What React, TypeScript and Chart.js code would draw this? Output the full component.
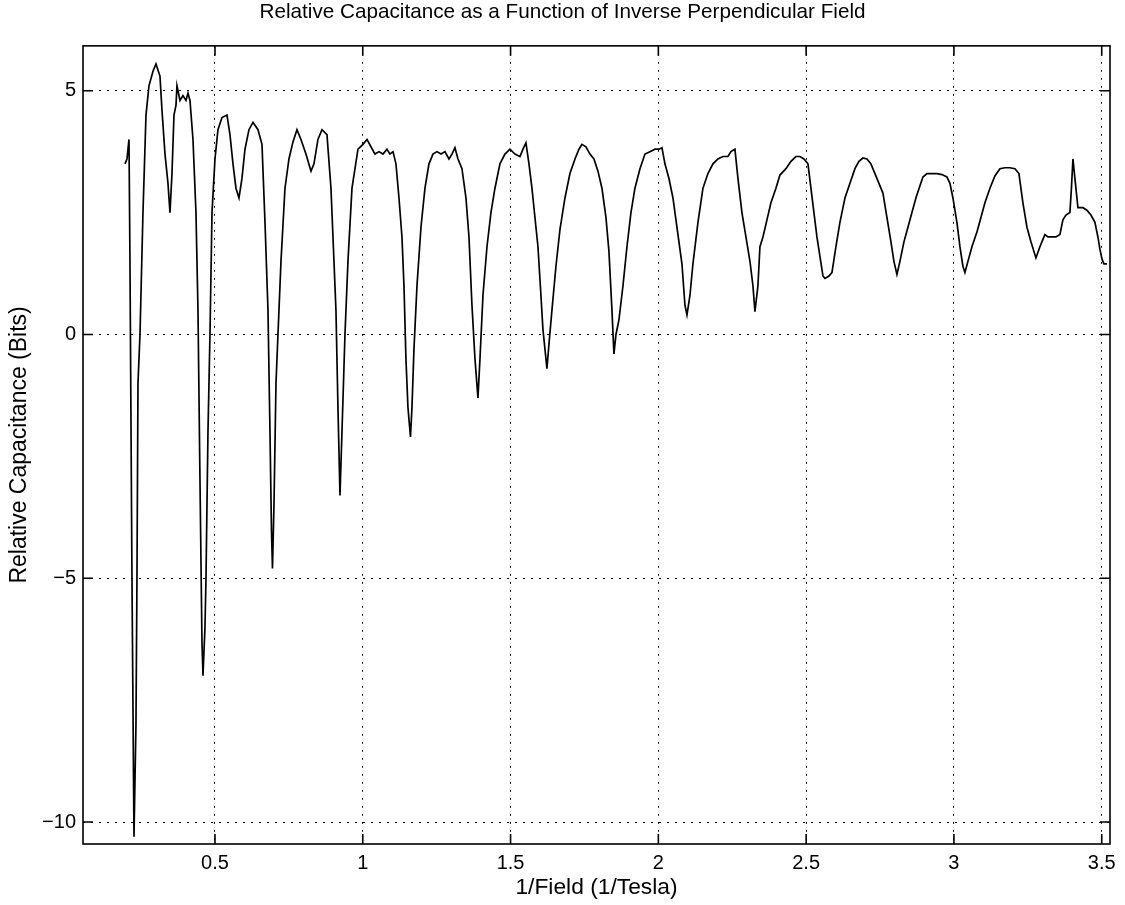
import React, { useEffect, useRef } from "react";
import { Chart, registerables } from "chart.js";

Chart.register(...registerables);

// 1/Field (1/Tesla)
const inverseField = [
  0.1955, 0.2023, 0.2091, 0.2124, 0.2192, 0.226, 0.2327, 0.2361, 0.2395, 0.2463,
  0.2564, 0.2666, 0.2767, 0.2903, 0.3004, 0.3139, 0.3207, 0.3309, 0.341, 0.3478,
  0.3545, 0.3613, 0.3681, 0.3714, 0.3816, 0.3917, 0.4019, 0.4087, 0.4154, 0.4256,
  0.4357, 0.4425, 0.4493, 0.456, 0.4594, 0.4662, 0.4696, 0.4763, 0.4831, 0.4899,
  0.5, 0.5101, 0.5237, 0.5406, 0.5507, 0.5609, 0.571, 0.5812, 0.5913, 0.6015,
  0.615, 0.6286, 0.6455, 0.659, 0.6692, 0.6793, 0.6861, 0.6911, 0.6945, 0.6996,
  0.7064, 0.7131, 0.7233, 0.7368, 0.7503, 0.7639, 0.7774, 0.7909, 0.8078, 0.8248,
  0.8349, 0.8484, 0.862, 0.8789, 0.8924, 0.9026, 0.9093, 0.9161, 0.9229, 0.9296,
  0.9398, 0.9499, 0.9635, 0.9838, 1.0007, 1.0142, 1.0277, 1.0413, 1.0548, 1.0683,
  1.0819, 1.092, 1.1022, 1.1123, 1.1225, 1.1326, 1.1394, 1.1461, 1.1529, 1.1614,
  1.1664, 1.1732, 1.1834, 1.1969, 1.2104, 1.224, 1.2375, 1.251, 1.2646, 1.2781,
  1.2916, 1.3018, 1.3119, 1.3221, 1.3356, 1.3491, 1.3593, 1.3694, 1.3796, 1.3897,
  1.3965, 1.4066, 1.4202, 1.4337, 1.4472, 1.4641, 1.4811, 1.498, 1.5149, 1.5318,
  1.542, 1.5521, 1.5623, 1.5724, 1.5825, 1.5927, 1.6028, 1.6096, 1.6164, 1.6231,
  1.6299, 1.64, 1.6536, 1.6671, 1.684, 1.7009, 1.7179, 1.7314, 1.7415, 1.7551,
  1.7686, 1.7821, 1.7957, 1.8092, 1.8227, 1.8329, 1.843, 1.8498, 1.8566, 1.8667,
  1.8803, 1.8938, 1.9073, 1.9208, 1.9378, 1.9547, 1.9716, 1.9885, 2.002, 2.0122,
  2.0223, 2.0359, 2.0494, 2.0629, 2.0798, 2.09, 2.0968, 2.1069, 2.117, 2.134,
  2.1509, 2.1678, 2.1847, 2.2016, 2.2185, 2.2355, 2.2456, 2.2591, 2.2693, 2.2828,
  2.2963, 2.3099, 2.32, 2.3268, 2.3369, 2.3437, 2.3539, 2.3674, 2.3809, 2.3978,
  2.4113, 2.4317, 2.4486, 2.4655, 2.479, 2.4926, 2.5061, 2.5162, 2.5264, 2.5365,
  2.5467, 2.5568, 2.5636, 2.5771, 2.5873, 2.6008, 2.6143, 2.6313, 2.6482, 2.6651,
  2.6786, 2.6922, 2.7057, 2.7192, 2.7328, 2.7463, 2.7598, 2.7733, 2.7869, 2.797,
  2.8072, 2.8173, 2.8309, 2.8444, 2.8579, 2.8714, 2.885, 2.8951, 2.9087, 2.9256,
  2.9425, 2.9594, 2.9763, 2.9865, 2.9966, 3.0101, 3.0203, 3.0304, 3.0372, 3.0474,
  3.0609, 3.0778, 3.0913, 3.1049, 3.1218, 3.1387, 3.1556, 3.1725, 3.1894, 3.2064,
  3.2199, 3.2334, 3.247, 3.2605, 3.2774, 3.2909, 3.3011, 3.3078, 3.318, 3.3315,
  3.3451, 3.3586, 3.3687, 3.3789, 3.3924, 3.3975, 3.4026, 3.4093, 3.4195, 3.4364,
  3.4499, 3.4635, 3.477, 3.4871, 3.4939, 3.5007, 3.5074, 3.5176,
];

// Relative Capacitance (Bits)
const capacitance = [
  3.5, 3.6, 4.0, 1.5, -5.0, -10.3, -8.0, -5.0, -1.0, 0.0,
  2.5, 4.5, 5.1, 5.4, 5.55, 5.3, 4.6, 3.7, 3.1, 2.5,
  3.3, 4.5, 4.7, 5.1, 4.8, 4.9, 4.8, 4.95, 4.8, 4.0,
  2.5, 0.5, -3.0, -6.3, -7.0, -6.0, -5.0, -2.0, 0.0, 2.5,
  3.6, 4.2, 4.45, 4.5, 4.1, 3.5, 3.0, 2.8, 3.2, 3.8,
  4.2, 4.35, 4.2, 3.9, 2.3, 0.5, -2.0, -4.0, -4.8, -3.5,
  -1.0, 0.0, 1.5, 3.0, 3.6, 3.95, 4.2, 4.0, 3.7, 3.35,
  3.5, 4.0, 4.2, 4.1, 3.0, 1.5, 0.5, -1.5, -3.3, -2.0,
  0.0, 1.5, 3.0, 3.8, 3.9, 4.0, 3.85, 3.7, 3.75, 3.7,
  3.8, 3.7, 3.75, 3.5, 2.8, 2.0, 1.0, -0.5, -1.5, -2.1,
  -1.5, -0.3, 1.0, 2.2, 3.0, 3.5, 3.7, 3.75, 3.7, 3.75,
  3.6, 3.7, 3.83, 3.6, 3.4, 2.8, 2.0, 0.6, -0.5, -1.3,
  -0.5, 0.8, 1.8, 2.5, 3.0, 3.5, 3.7, 3.8, 3.7, 3.65,
  3.8, 3.93, 3.5, 3.0, 2.4, 1.8, 0.8, 0.1, -0.3, -0.7,
  -0.2, 0.5, 1.4, 2.15, 2.8, 3.3, 3.6, 3.8, 3.9, 3.85,
  3.7, 3.6, 3.35, 3.0, 2.4, 1.7, 0.5, -0.4, 0.0, 0.3,
  1.0, 1.8, 2.5, 3.0, 3.4, 3.7, 3.75, 3.8, 3.8, 3.83,
  3.5, 3.2, 2.8, 2.2, 1.45, 0.6, 0.4, 0.8, 1.45, 2.3,
  3.0, 3.3, 3.5, 3.6, 3.65, 3.65, 3.75, 3.8, 3.2, 2.5,
  2.0, 1.5, 1.0, 0.47, 1.0, 1.8, 2.0, 2.35, 2.7, 3.0,
  3.27, 3.4, 3.55, 3.65, 3.65, 3.6, 3.5, 3.0, 2.5, 2.0,
  1.6, 1.2, 1.15, 1.2, 1.27, 1.8, 2.3, 2.8, 3.1, 3.4,
  3.55, 3.62, 3.6, 3.5, 3.3, 3.1, 2.9, 2.4, 1.9, 1.5,
  1.23, 1.5, 1.9, 2.2, 2.5, 2.8, 3.05, 3.23, 3.3, 3.3,
  3.3, 3.28, 3.23, 3.1, 2.8, 2.3, 1.8, 1.4, 1.27, 1.5,
  1.8, 2.1, 2.4, 2.7, 3.0, 3.25, 3.4, 3.42, 3.42, 3.4,
  3.3, 2.7, 2.2, 1.9, 1.57, 1.8, 1.95, 2.05, 2.0, 2.0,
  2.0, 2.05, 2.35, 2.45, 2.5, 3.0, 3.6, 3.2, 2.6, 2.6,
  2.55, 2.45, 2.3, 2.0, 1.75, 1.55, 1.45, 1.45,
];

const xTickValues = [0.5, 1, 1.5, 2, 2.5, 3, 3.5];
const yTickValues = [-10, -5, 0, 5];

const chartTitle = "Relative Capacitance as a Function of Inverse Perpendicular Field";
const xAxisTitle = "1/Field (1/Tesla)";
const yAxisTitle = "Relative Capacitance (Bits)";

const X_MIN = 0.0535;
const X_MAX = 3.528;
const Y_MIN = -10.45;
const Y_MAX = 5.92;

const FONT_FAMILY = "'Liberation Sans', Arial, Helvetica, sans-serif";

const fmt = (v: number) => (v < 0 ? "\u2212" + String(Math.abs(v)) : String(v));

const frameAndTicks = {
  id: "frameAndTicks",
  afterDatasetsDraw(chart: any) {
    const { ctx, chartArea: a, scales } = chart;
    const L = 10;
    ctx.save();
    ctx.strokeStyle = "#000";
    ctx.lineWidth = 1.6;
    ctx.setLineDash([]);
    ctx.strokeRect(a.left, a.top, a.right - a.left, a.bottom - a.top);
    ctx.beginPath();
    for (const v of xTickValues) {
      const px = scales.x.getPixelForValue(v);
      ctx.moveTo(px, a.bottom);
      ctx.lineTo(px, a.bottom - L);
      ctx.moveTo(px, a.top);
      ctx.lineTo(px, a.top + L);
    }
    for (const v of yTickValues) {
      const py = scales.y.getPixelForValue(v);
      ctx.moveTo(a.left, py);
      ctx.lineTo(a.left + L, py);
      ctx.moveTo(a.right, py);
      ctx.lineTo(a.right - L, py);
    }
    ctx.stroke();
    ctx.restore();
  },
};

export default function App() {
  const canvasRef = useRef<HTMLCanvasElement | null>(null);

  useEffect(() => {
    const canvas = canvasRef.current;
    if (!canvas) return;
    const points = inverseField.map((x, i) => ({ x, y: capacitance[i] }));
    const chart = new Chart(canvas, {
      type: "line",
      data: {
        datasets: [
          {
            data: points,
            borderColor: "#000",
            borderWidth: 1.7,
            pointRadius: 0,
            tension: 0,
            fill: false,
            xAxisID: "x",
            yAxisID: "y",
          },
        ],
      },
      options: {
        animation: false,
        responsive: false,
        devicePixelRatio: 1,
        layout: { padding: { left: 0, right: 0, top: 0, bottom: 0 } },
        plugins: {
          legend: { display: false },
          tooltip: { enabled: false },
          title: {
            display: true,
            text: chartTitle,
            fullSize: true,
            color: "#000",
            font: { family: FONT_FAMILY, size: 20.7, weight: "normal" },
            padding: { top: 0, bottom: 21 },
          },
        },
        scales: {
          x: {
            type: "linear",
            min: X_MIN,
            max: X_MAX,
            afterBuildTicks: (s: any) => {
              s.ticks = xTickValues.map((v) => ({ value: v }));
            },
            afterFit: (s: any) => {
              s.height = 61;
            },
            grid: { color: "#000", lineWidth: 1, drawTicks: false },
            border: { display: false, dash: [2, 6] },
            ticks: {
              color: "#000",
              padding: 7,
              maxRotation: 0,
              font: { family: FONT_FAMILY, size: 20 },
              callback: (v: any) => fmt(Number(v)),
            },
            title: {
              display: true,
              text: xAxisTitle,
              color: "#000",
              font: { family: FONT_FAMILY, size: 22.8 },
              padding: { top: 0, bottom: 4 },
            },
          },
          y: {
            type: "linear",
            position: "left",
            min: Y_MIN,
            max: Y_MAX,
            afterBuildTicks: (s: any) => {
              s.ticks = yTickValues.map((v) => ({ value: v }));
            },
            afterFit: (s: any) => {
              s.width = 83;
            },
            grid: { color: "#000", lineWidth: 1, drawTicks: false },
            border: { display: false, dash: [2, 6] },
            ticks: {
              color: "#000",
              padding: 7,
              font: { family: FONT_FAMILY, size: 20 },
              callback: (v: any) => fmt(Number(v)),
            },
            title: {
              display: true,
              text: yAxisTitle,
              color: "#000",
              font: { family: FONT_FAMILY, size: 23 },
              padding: { top: 6, bottom: 0 },
            },
          },
          yRight: {
            type: "linear",
            position: "right",
            display: true,
            min: Y_MIN,
            max: Y_MAX,
            afterFit: (s: any) => {
              s.width = 15;
            },
            grid: { display: false, drawOnChartArea: false, drawTicks: false },
            border: { display: false },
            ticks: { display: false },
          },
        },
      },
      plugins: [frameAndTicks],
    } as any);
    return () => chart.destroy();
  }, []);

  return (
    <div style={{ position: "absolute", left: 0, top: 0, width: 1125, height: 905, background: "#fff" }}>
      <canvas ref={canvasRef} width={1125} height={905} style={{ display: "block" }} />
    </div>
  );
}
